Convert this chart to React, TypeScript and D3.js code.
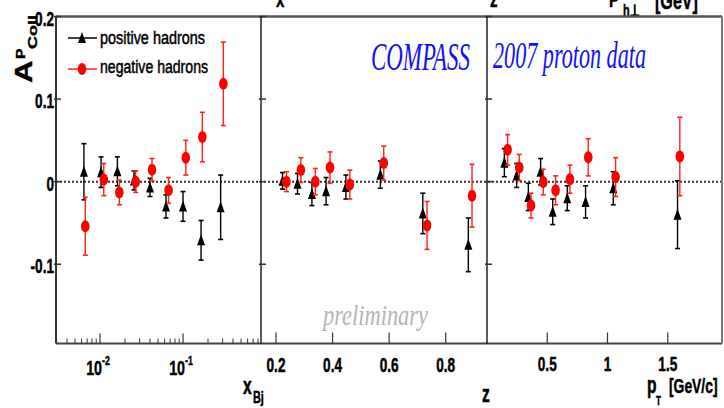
import React from "react";
import * as d3 from "d3";

// ---- data ----
const xbjPosX = [0.0064, 0.0103, 0.0162, 0.0257, 0.040, 0.0624, 0.100, 0.165, 0.284];
const xbjPosV = [0.012, 0.0115, 0.0125, 0.0015, -0.007, -0.030, -0.030, -0.071, -0.031];
const xbjPosE = [0.034, 0.0185, 0.0175, 0.0115, 0.011, 0.014, 0.018, 0.024, 0.039];
const xbjNegX = [0.00665, 0.0111, 0.0171, 0.0269, 0.0423, 0.067, 0.108, 0.171, 0.306];
const xbjNegV = [-0.054, 0.0025, -0.013, 0.0, 0.0145, -0.0105, 0.029, 0.054, 0.1185];
const xbjNegE = [0.035, 0.0195, 0.015, 0.013, 0.0135, 0.0155, 0.021, 0.030, 0.0505];

const zPosX = [0.223, 0.276, 0.327, 0.377, 0.447, 0.569, 0.719, 0.880];
const zPosV = [0.001, -0.0025, -0.015, -0.0115, -0.0065, 0.0085, -0.0385, -0.0765];
const zPosE = [0.010, 0.0125, 0.014, 0.0165, 0.0145, 0.0165, 0.0245, 0.0325];
const zNegX = [0.237, 0.288, 0.339, 0.391, 0.461, 0.581, 0.734, 0.893];
const zNegV = [0.0, 0.014, 0.0, 0.017, -0.0035, 0.0225, -0.053, -0.017];
const zNegE = [0.012, 0.015, 0.016, 0.019, 0.0175, 0.0205, 0.029, 0.038];

const ptPosX = [0.144, 0.246, 0.343, 0.445, 0.545, 0.666, 0.818, 1.048, 1.581];
const ptPosV = [0.023, 0.0075, -0.0185, 0.012, -0.0365, -0.020, -0.0245, -0.008, -0.040];
const ptPosE = [0.017, 0.0145, 0.0165, 0.016, 0.0155, 0.015, 0.0195, 0.020, 0.041];
const ptNegX = [0.171, 0.268, 0.365, 0.467, 0.569, 0.688, 0.840, 1.067, 1.60];
const ptNegV = [0.0385, 0.017, -0.029, -0.0005, -0.0105, 0.003, 0.0295, 0.0055, 0.0305];
const ptNegE = [0.0185, 0.016, 0.015, 0.0155, 0.0175, 0.017, 0.0225, 0.0235, 0.0475];

const yTicks = [0.2, 0.1, 0, -0.1];
const yTickLabels = ["0.2", "0.1", "0", "-0.1"];
const zTicks = [0.2, 0.4, 0.6, 0.8];
const ptTicks = [0.5, 1, 1.5];
const ptTickLabels = ["0.5", "1", "1.5"];

// ---- layout ----
const TOP = 16.5;
const BOT = 343.5;
const X0 = 56, X1 = 261, X2 = 487, X3 = 722;

const yScale = d3.scaleLinear().domain([-0.196, 0.2]).range([BOT, TOP]);
const xBj = d3.scaleLog().domain([0.00295, 0.87]).range([X0, X1]);
const xZ = d3.scaleLinear().domain([0.147, 0.946]).range([X1, X2]);
const xPt = d3.scaleLinear().domain([0, 1.95]).range([X2, X3]);

const SANS = "'Liberation Sans', Arial, Helvetica, sans-serif";
const SERIF = "'Liberation Serif', 'Times New Roman', serif";
const SX = 0.68;

function T(props: any) {
  const { x, y, sx = SX, size = 20, weight = "bold", anchor = "start", fill = "#000", family = SANS, children } = props;
  return (
    <text
      transform={`translate(${x},${y}) scale(${sx},1)`}
      fontFamily={family}
      fontSize={size}
      fontWeight={weight}
      textAnchor={anchor}
      fill={fill}
      stroke={fill}
      strokeWidth={0.5}
    >
      {children}
    </text>
  );
}

function Tri({ cx, cy }: { cx: number; cy: number }) {
  const p = d3.path();
  p.moveTo(cx, cy - 6);
  p.lineTo(cx + 4, cy + 5);
  p.lineTo(cx - 4, cy + 5);
  p.closePath();
  return <path d={p.toString()} fill="#000" />;
}

function Series({ xs, vs, es, xScale, kind }: any) {
  const col = kind === "pos" ? "#000" : "#ff2020";
  return (
    <g>
      {xs.map((xv: number, i: number) => {
        const cx = xScale(xv);
        const cy = yScale(vs[i]);
        const yt = yScale(vs[i] + es[i]);
        const yb = yScale(vs[i] - es[i]);
        return (
          <g key={i}>
            <line x1={cx} x2={cx} y1={yt} y2={yb} stroke={col} strokeWidth={1.4} />
            <line x1={cx - 2.5} x2={cx + 2.5} y1={yt} y2={yt} stroke={col} strokeWidth={1.6} />
            <line x1={cx - 2.5} x2={cx + 2.5} y1={yb} y2={yb} stroke={col} strokeWidth={1.6} />
            {kind === "pos" ? (
              <Tri cx={cx} cy={cy} />
            ) : (
              <ellipse cx={cx} cy={cy} rx={4.3} ry={6} fill="#ff0000" />
            )}
          </g>
        );
      })}
    </g>
  );
}

export default function App() {
  const logMajor = [0.01, 0.1];
  const logMinor: number[] = [];
  [0.001, 0.01, 0.1].forEach((d) => {
    for (let k = 2; k <= 9; k++) {
      const v = d * k;
      if (v >= 0.00295 && v <= 0.87) logMinor.push(v);
    }
  });
  const panelLefts = [X0, X1, X2];
  const zero = yScale(0);

  return (
    <svg
      width={724}
      height={408}
      style={{ position: "absolute", left: 0, top: 0, background: "#fff" }}
    >
      <rect x={0} y={0} width={724} height={408} fill="#fff" />

      {/* cropped titles at top */}
      <T x={276} y={7} size={22}>x</T>
      <T x={490} y={7} size={22}>z</T>
      <T x={609} y={7} size={22}>P</T>
      <T x={623} y={16} size={16}>h⊥</T>
      <T x={655} y={9} size={23} sx={0.7}>[GeV]</T>

      {/* zero line */}
      <line x1={X0} x2={X3} y1={zero} y2={zero} stroke="#333" strokeWidth={2} strokeDasharray="2,2" />

      {/* frame */}
      <line x1={X0} x2={X3} y1={TOP} y2={TOP} stroke="#555" strokeWidth={2.5} />
      <line x1={X0} x2={X3} y1={BOT} y2={BOT} stroke="#444" strokeWidth={2} />
      <line x1={X0} x2={X0} y1={TOP} y2={BOT} stroke="#333" strokeWidth={2} />
      <line x1={X1} x2={X1} y1={TOP} y2={BOT} stroke="#000" strokeWidth={1.3} />
      <line x1={X2} x2={X2} y1={TOP} y2={BOT} stroke="#000" strokeWidth={1.3} />
      <line x1={X3} x2={X3} y1={TOP} y2={BOT} stroke="#777" strokeWidth={2} />

      {/* y ticks on each panel */}
      {panelLefts.map((px, j) =>
        yTicks.map((t, i) => (
          <line key={`yt${j}-${i}`} x1={px - 2} x2={px + 5} y1={yScale(t)} y2={yScale(t)} stroke="#333" strokeWidth={1.5} />
        ))
      )}
      {yTicks.map((t, i) => (
        <T key={`yl${i}`} x={54} y={yScale(t) + 9} anchor="end" size={20}>
          {yTickLabels[i]}
        </T>
      ))}

      {/* y label */}
      <g transform="translate(32,83) rotate(-90) scale(1,0.75)" stroke="#000" strokeWidth={0.5}>
        <text x={0} y={0} fontFamily={SANS} fontWeight="bold" fontSize={31}>A</text>
        <text x={24} y={-10} fontFamily={SANS} fontWeight="bold" fontSize={16}>P</text>
        <text x={34} y={6.5} fontFamily={SANS} fontWeight="bold" fontSize={18}>Coll</text>
      </g>

      {/* x axis panel 1 (log) */}
      {logMinor.map((v, i) => (
        <line key={`lm${i}`} x1={xBj(v)} x2={xBj(v)} y1={BOT} y2={BOT - 5} stroke="#333" strokeWidth={1} />
      ))}
      {logMajor.map((v, i) => (
        <line key={`lM${i}`} x1={xBj(v)} x2={xBj(v)} y1={BOT} y2={BOT - 10} stroke="#333" strokeWidth={1.2} />
      ))}
      {logMajor.map((v, i) => (
        <g key={`ll${i}`}>
          <T x={xBj(v) + 2} y={375} anchor="end" size={21}>10</T>
          <T x={xBj(v) + 2} y={365} size={13}>{i === 0 ? "-2" : "-1"}</T>
        </g>
      ))}
      <T x={243} y={394} size={23}>x</T>
      <T x={253} y={403} size={16}>Bj</T>

      {/* x axis panel 2 */}
      {zTicks.map((v, i) => (
        <g key={`zt${i}`}>
          <line x1={xZ(v)} x2={xZ(v)} y1={BOT} y2={BOT - 11} stroke="#333" strokeWidth={1.2} />
          <T x={xZ(v)} y={372} anchor="middle" size={20}>{String(v)}</T>
        </g>
      ))}
      <T x={482} y={402} size={23}>z</T>

      {/* x axis panel 3 */}
      {ptTicks.map((v, i) => (
        <g key={`pt${i}`}>
          <line x1={xPt(v)} x2={xPt(v)} y1={BOT} y2={BOT - 11} stroke="#333" strokeWidth={1.2} />
          <T x={xPt(v)} y={371} anchor="middle" size={20}>{ptTickLabels[i]}</T>
        </g>
      ))}
      <T x={647} y={393} size={23}>p</T>
      <T x={656} y={405} size={12}>T</T>
      <T x={669} y={393} size={21} sx={0.66}>[GeV/c]</T>

      {/* annotations */}
      <text x={371} y={70} fontFamily={SERIF} fontStyle="italic" fontSize={40} fill="#1010ff" textLength={99} lengthAdjust="spacingAndGlyphs">COMPASS</text>
      <text x={493} y={68} fontFamily={SERIF} fontStyle="italic" fontSize={38} fill="#1010ff" textLength={153} lengthAdjust="spacingAndGlyphs">2007 proton data</text>
      <text x={323} y={325} fontFamily={SERIF} fontStyle="italic" fontSize={30} fill="#b4b4b4" textLength={105} lengthAdjust="spacingAndGlyphs">preliminary</text>

      {/* legend */}
      <line x1={68} x2={97} y1={38} y2={38} stroke="#000" strokeWidth={1.5} />
      <Tri cx={82} cy={38} />
      <line x1={68} x2={97} y1={69} y2={69} stroke="#ff2020" strokeWidth={1.5} />
      <ellipse cx={82} cy={69} rx={4.3} ry={6} fill="#ff0000" />
      <text x={100} y={44} fontFamily={SANS} fontSize={18} stroke="#000" strokeWidth={0.5} textLength={105} lengthAdjust="spacingAndGlyphs">positive hadrons</text>
      <text x={100} y={73} fontFamily={SANS} fontSize={18} stroke="#000" strokeWidth={0.5} textLength={108} lengthAdjust="spacingAndGlyphs">negative hadrons</text>

      {/* data */}
      <Series xs={xbjPosX} vs={xbjPosV} es={xbjPosE} xScale={xBj} kind="pos" />
      <Series xs={xbjNegX} vs={xbjNegV} es={xbjNegE} xScale={xBj} kind="neg" />
      <Series xs={zPosX} vs={zPosV} es={zPosE} xScale={xZ} kind="pos" />
      <Series xs={zNegX} vs={zNegV} es={zNegE} xScale={xZ} kind="neg" />
      <Series xs={ptPosX} vs={ptPosV} es={ptPosE} xScale={xPt} kind="pos" />
      <Series xs={ptNegX} vs={ptNegV} es={ptNegE} xScale={xPt} kind="neg" />
    </svg>
  );
}
